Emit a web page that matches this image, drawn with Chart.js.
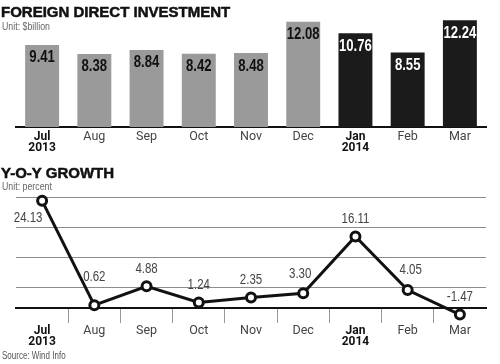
<!DOCTYPE html>
<html>
<head>
<meta charset="utf-8">
<script src="https://cdn.jsdelivr.net/npm/chart.js@4.4.0/dist/chart.umd.min.js"></script>
<style>
body { margin: 0; background: #fff; }
#wrap { position: relative; width: 500px; height: 364px; overflow: hidden; background: #fff;
        font-family: "Liberation Sans", Arial, sans-serif; }
canvas { position: absolute; left: 0; }
.title { position: absolute; left: 1px; font: bold 15px/15px "Liberation Sans", Arial, sans-serif;
         color: #111; -webkit-text-stroke: 0.5px #111; white-space: nowrap; }
.note { position: absolute; left: 2px; font-size: 11px; line-height: 11px; color: #666; white-space: nowrap;
        transform: scaleX(0.8); transform-origin: 0 0; }
</style>
</head>
<body>
<div id="wrap">
  <canvas id="fdiChart" width="500" height="160" style="top:0"></canvas>
  <canvas id="growthChart" width="500" height="204" style="top:160px"></canvas>
  <div class="title" style="top:4px">FOREIGN DIRECT INVESTMENT</div>
  <div class="note" style="top:21px">Unit: $billion</div>
  <div class="title" style="top:165px">Y-O-Y GROWTH</div>
  <div class="note" style="top:181px">Unit: percent</div>
  <div class="note" style="top:350px;font-size:10px;color:#555">Source: Wind Info</div>
</div>
<script>
var months = [["Jul", "2013"], "Aug", "Sep", "Oct", "Nov", "Dec", ["Jan", "2014"], "Feb", "Mar"];
var fdiValues = [9.41, 8.38, 8.84, 8.42, 8.48, 12.08, 10.76, 8.55, 12.24];
var growthValues = [24.13, 0.62, 4.88, 1.24, 2.35, 3.30, 16.11, 4.05, -1.47];
var growthGrid = [4.7, 11.45, 18.2, 24.95];
var firstOf2014 = 6;

var sans = "'Liberation Sans', Arial, sans-serif";

function tickFont(ctx) {
    if (Array.isArray(months[ctx.index])) {
        return { family: "Roboto", size: 12, weight: "bold", lineHeight: "11px" };
    }
    return { family: "Roboto", size: 12.5, lineHeight: "11px" };
}
function tickColor(ctx) {
    return Array.isArray(months[ctx.index]) ? "#111" : "#444";
}

// narrow text: regular sans squeezed sideways
function narrowText(ctx, text, x, y) {
    ctx.save();
    ctx.translate(x, y);
    ctx.scale(0.82, 1);
    ctx.fillText(text, 0, 0);
    ctx.restore();
}

// value labels inside the bars
var barLabels = {
    id: "barLabels",
    afterDatasetsDraw: function (chart) {
        var ctx = chart.ctx;
        var meta = chart.getDatasetMeta(0);
        ctx.save();
        ctx.font = "bold 16px " + sans;
        ctx.textAlign = "center";
        ctx.textBaseline = "middle";
        meta.data.forEach(function (bar, i) {
            ctx.fillStyle = i >= firstOf2014 ? "#fff" : "#111";
            narrowText(ctx, fdiValues[i].toFixed(2), bar.x, bar.y + 13);
        });
        ctx.restore();
    }
};

// value labels near the points
var labelShift = { 0: [-14, 17], 1: [0, -28], 5: [-3, -19], 7: [3, -20] };
var pointLabels = {
    id: "pointLabels",
    afterDatasetsDraw: function (chart) {
        var ctx = chart.ctx;
        var meta = chart.getDatasetMeta(0);
        ctx.save();
        ctx.font = "14px " + sans;
        ctx.fillStyle = "#444";
        ctx.textAlign = "center";
        ctx.textBaseline = "middle";
        meta.data.forEach(function (pt, i) {
            var s = labelShift[i] || [0, -17];
            narrowText(ctx, growthValues[i].toFixed(2), pt.x + s[0], pt.y + s[1]);
        });
        ctx.restore();
    }
};

new Chart(document.getElementById("fdiChart"), {
    type: "bar",
    data: {
        labels: months,
        datasets: [{
            data: fdiValues,
            backgroundColor: function (ctx) {
                return ctx.dataIndex >= firstOf2014 ? "#1b1b1b" : "#9a9a9a";
            },
            barPercentage: 0.65,
            categoryPercentage: 1
        }]
    },
    options: {
        responsive: false,
        animation: false,
        layout: { padding: { left: 16, right: 14, top: 5, bottom: 0 } },
        plugins: { legend: { display: false }, tooltip: { enabled: false } },
        scales: {
            x: {
                grid: { display: false, drawTicks: false },
                border: { display: true, color: "#111", width: 2 },
                ticks: { font: tickFont, color: tickColor, padding: 4, maxRotation: 0, autoSkip: false },
                afterFit: function (s) { s.height = 33; }
            },
            y: { display: false, min: 0, max: 14 }
        }
    },
    plugins: [barLabels]
});

new Chart(document.getElementById("growthChart"), {
    type: "line",
    data: {
        labels: months,
        datasets: [{
            data: growthValues,
            borderColor: "#111",
            borderWidth: 3,
            pointRadius: 4.5,
            pointBorderWidth: 3,
            pointBackgroundColor: "#fff",
            pointBorderColor: "#111",
            tension: 0,
            clip: false
        }]
    },
    options: {
        responsive: false,
        animation: false,
        layout: { padding: { left: 16, right: 14, top: 37, bottom: 0 } },
        plugins: { legend: { display: false }, tooltip: { enabled: false } },
        scales: {
            x: {
                offset: true,
                grid: {
                    offset: true,
                    drawOnChartArea: false,
                    tickLength: 15,
                    lineWidth: 1,
                    color: function (ctx) { return ctx.index > 0 ? "#999" : "rgba(0,0,0,0)"; }
                },
                border: { display: true, color: "#111", width: 2 },
                ticks: { font: tickFont, color: tickColor, padding: 2, maxRotation: 0, autoSkip: false },
                afterFit: function (s) { s.height = 56; }
            },
            y: {
                min: 0,
                max: 25,
                ticks: { display: false },
                grid: { color: "#8c8c8c", lineWidth: 1, drawTicks: false },
                border: { display: false },
                afterBuildTicks: function (s) {
                    s.ticks = growthGrid.map(function (v) { return { value: v }; });
                },
                afterFit: function (s) { s.width = 0; }
            }
        }
    },
    plugins: [pointLabels]
});
</script>
</body>
</html>
